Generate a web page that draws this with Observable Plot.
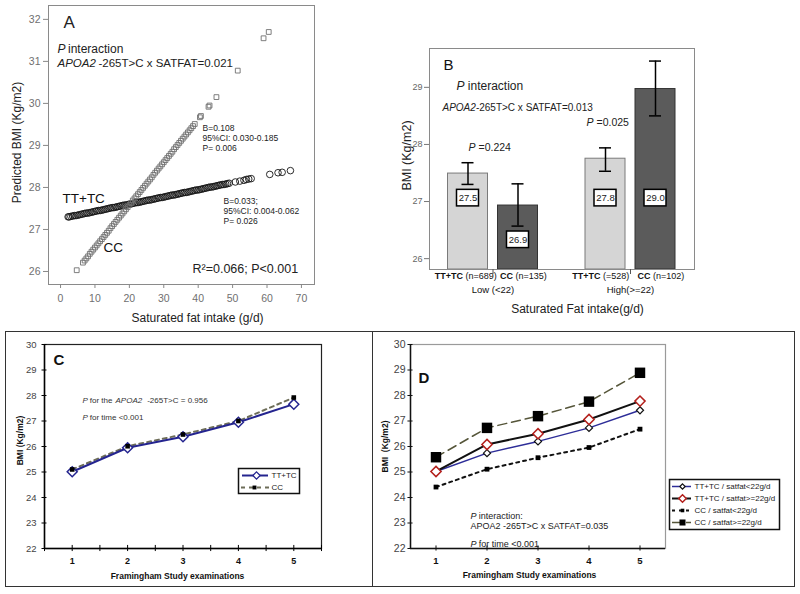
<!DOCTYPE html>
<html><head><meta charset="utf-8">
<script src="https://cdn.jsdelivr.net/npm/d3@7"></script>
<script src="https://cdn.jsdelivr.net/npm/@observablehq/plot@0.6"></script>
<style>
html,body{margin:0;padding:0;background:#fff;}
#root{position:relative;width:800px;height:594px;overflow:hidden;background:#fff;font-family:"Liberation Sans",Arial,sans-serif;}
.box{position:absolute;border:1.5px solid #333;box-sizing:border-box;}
</style></head>
<body><div id="root"></div>
<script>
// ================= DATA =================
// Panel A: predicted BMI vs saturated fat intake  [g/d, BMI]
const aTTPoints = [
 [2.2,27.30],[2.5,27.30],[3,27.31],[3.5,27.32],[4,27.33],[4.5,27.33],[5,27.34],[5.5,27.35],[6,27.36],[6.5,27.37],
 [7,27.38],[7.5,27.39],[8,27.39],[8.5,27.40],[9,27.41],[9.5,27.42],[10,27.43],[10.5,27.44],[11,27.45],[11.5,27.45],
 [12,27.46],[12.5,27.47],[13,27.48],[13.5,27.49],[14,27.50],[14.5,27.51],[15,27.52],[15.5,27.52],[16,27.53],[16.5,27.54],
 [17,27.55],[17.5,27.56],[18,27.57],[18.5,27.58],[19,27.58],[19.5,27.59],[20,27.60],[20.5,27.61],[21,27.62],[21.5,27.63],
 [22,27.64],[22.5,27.64],[23,27.65],[23.5,27.66],[24,27.67],[24.5,27.68],[25,27.69],[25.5,27.70],[26,27.70],[26.5,27.71],
 [27,27.72],[27.5,27.73],[28,27.74],[28.5,27.75],[29,27.76],[29.5,27.76],[30,27.77],[30.5,27.78],[31,27.79],[31.5,27.80],
 [32,27.81],[32.5,27.82],[33,27.82],[33.5,27.83],[34,27.84],[34.5,27.85],[35,27.86],[35.5,27.87],[36,27.88],[36.5,27.88],
 [37,27.89],[37.5,27.90],[38,27.91],[38.5,27.92],[39,27.93],[39.5,27.94],[40,27.94],[40.5,27.95],[41,27.96],[41.5,27.97],
 [42,27.98],[42.5,27.99],[43,28.00],[43.5,28.01],[44,28.01],[44.5,28.02],[45,28.03],[45.5,28.04],[46,28.05],[46.5,28.06],
 [47,28.07],[47.5,28.07],[48,28.08],[48.5,28.09],[49,28.10],
 [50.8,28.13],[52.1,28.15],[53.3,28.17],[54.0,28.19],[54.7,28.20],[55.4,28.21],[60.8,28.31],[63.2,28.35],[64.4,28.36],[66.8,28.40]
];
const aCCPoints = [
 [4.7,26.03],[6.5,26.21],[7,26.26],[7.5,26.31],[8,26.36],[8.5,26.42],[9,26.47],[9.5,26.52],[10,26.57],[10.5,26.62],
 [11,26.67],[11.5,26.72],[12,26.77],[12.5,26.82],[13,26.87],[13.5,26.92],[14,26.97],[14.5,27.03],[15,27.08],[15.5,27.13],
 [16,27.18],[16.5,27.23],[17,27.28],[17.5,27.33],[18,27.38],[18.5,27.43],[19,27.48],[19.5,27.53],[20,27.58],[20.5,27.63],
 [21,27.69],[21.5,27.74],[22,27.79],[22.5,27.84],[23,27.89],[23.5,27.94],[24,27.99],[24.5,28.04],[25,28.09],[25.5,28.14],
 [26,28.19],[26.5,28.24],[27,28.30],[27.5,28.35],[28,28.40],[28.5,28.45],[29,28.50],[29.5,28.55],[30,28.60],[30.5,28.65],
 [31,28.70],[31.5,28.75],[32,28.80],[32.5,28.85],[33,28.91],[33.5,28.96],[34,29.01],[34.5,29.06],[35,29.11],[35.5,29.16],
 [36,29.21],[36.5,29.26],[37,29.31],[37.5,29.36],[38,29.41],[38.5,29.46],[39,29.51],
 [40.5,29.67],[40.8,29.70],[43,29.92],[43.3,29.95],[45.3,30.15],[51.5,30.78],[59,31.55],[60.5,31.70]
];
const aXTicks = [0, 10, 20, 30, 40, 50, 60, 70];
const aYTicks = [26, 27, 28, 29, 30, 31, 32];

// Panel B: mean BMI by saturated fat group and genotype
const bGroups = ["Low (<22)", "High(>=22)"];
const bGenotypes = ["TT+TC", "CC"];
const bBarGroup = ["Low (<22)", "Low (<22)", "High(>=22)", "High(>=22)"];
const bBarGenotype = ["TT+TC", "CC", "TT+TC", "CC"];
const bBarN = ["(n=689)", "(n=135)", "(=528)", "(n=102)"];
const bMeans = [27.49, 26.93, 27.75, 28.97];
const bLower = [27.30, 26.57, 27.53, 28.50];
const bUpper = [27.68, 27.31, 27.94, 29.46];
const bMeanLabels = ["27.5", "26.9", "27.8", "29.0"];
const bYTicks = [26, 27, 28, 29];

// Panel C: BMI over examinations by genotype
const cExams = [1, 2, 3, 4, 5];
const cSeries = ["TT+TC", "CC"];
const cTT = [25.01, 25.95, 26.38, 26.95, 27.66];
const cCC = [25.10, 26.01, 26.47, 27.00, 27.92];
const cYTicks = [22, 23, 24, 25, 26, 27, 28, 29, 30];
const cXMinor = [0.5, 1, 1.5, 2, 2.5, 3, 3.5, 4, 4.5, 5, 5.5];

// Panel D: BMI over examinations by genotype x saturated fat
const dExams = [1, 2, 3, 4, 5];
const dSeries = ["TT+TC / satfat<22g/d", "TT+TC / satfat>=22g/d", "CC / satfat<22g/d", "CC / satfat>=22g/d"];
const dTTlow  = [25.02, 25.74, 26.20, 26.73, 27.42];
const dTThigh = [25.02, 26.08, 26.50, 27.06, 27.78];
const dCClow  = [24.41, 25.11, 25.56, 25.96, 26.68];
const dCChigh = [25.58, 26.73, 27.19, 27.76, 28.89];
const dYTicks = [22, 23, 24, 25, 26, 27, 28, 29, 30];

// ================= HELPERS =================
const FONT = '"Liberation Sans", Arial, Helvetica, sans-serif';
const baseStyle = {fontFamily: FONT, background: "transparent", overflow: "visible", color: "#222"};
const DIAMOND = d3.symbolDiamond2 || "diamond";
const intFmt = d => String(d);
const root = document.getElementById("root");
function place(el, left, top) {
  el.style.position = "absolute";
  el.style.left = left + "px";
  el.style.top = top + "px";
  root.appendChild(el);
}
function box(left, top, w, h) {
  const d = document.createElement("div");
  d.className = "box";
  d.style.left = left + "px"; d.style.top = top + "px";
  d.style.width = w + "px"; d.style.height = h + "px";
  root.appendChild(d);
}
function note(text, frameAnchor, dx, dy, o = {}) {
  return Plot.text([text], {text: d => d, frameAnchor, dx, dy, textAnchor: "start",
    lineAnchor: "middle", fill: "#222", fontSize: 12, ...o});
}

// ================= PANEL A =================
const aX = [-3.5, 73.8], aY = [25.69, 32.33];
const plotA = Plot.plot({
  width: 330, height: 330,
  marginLeft: 48, marginRight: 16, marginTop: 5, marginBottom: 46,
  x: {domain: aX}, y: {domain: aY},
  style: baseStyle,
  marks: [
    Plot.frame({stroke: "#8a8a8a"}),
    Plot.axisX({ticks: aXTicks, tickFormat: intFmt, tickSize: 4, tickPadding: 6, fontSize: 10.5, color: "#707070", stroke: "#888", label: null}),
    Plot.axisY({ticks: aYTicks, tickFormat: intFmt, tickSize: 5, tickPadding: 3, fontSize: 10.5, color: "#707070", stroke: "#888", label: null}),
    Plot.dot(aTTPoints, {x: d => d[0], y: d => d[1], r: 3.3, stroke: "#151515", strokeWidth: 0.9, fill: "none"}),
    Plot.dot(aCCPoints, {x: d => d[0], y: d => d[1], symbol: "square", r: 2.7, stroke: "#707070", strokeWidth: 0.9, fill: "none"}),
    note("A", "top-left", 15, 17.5, {fontSize: 17}),
    note("P", "top-left", 9, 44, {fontStyle: "italic", fontSize: 12}),
    note("interaction", "top-left", 19.5, 44, {fontSize: 12}),
    note("APOA2", "top-left", 9, 57.5, {fontStyle: "italic", fontSize: 11.5}),
    note("-265T>C x SATFAT=0.021", "top-left", 50, 57.5, {fontSize: 11.5}),
    note("B=0.108", "top-left", 154, 123, {fontSize: 8.5}),
    note("95%CI: 0.030-0.185", "top-left", 154, 133, {fontSize: 8.5}),
    note("P= 0.006", "top-left", 154, 143, {fontSize: 8.5}),
    note("B=0.033;", "top-left", 175, 196, {fontSize: 8.5}),
    note("95%CI: 0.004-0.062", "top-left", 175, 206, {fontSize: 8.5}),
    note("P= 0.026", "top-left", 175, 216, {fontSize: 8.5}),
    note("TT+TC", "top-left", 14, 193, {fontSize: 13.5, fill: "#111"}),
    note("CC", "top-left", 55, 242, {fontSize: 13.5, fill: "#111"}),
    note("R\u00B2=0.066; P<0.001", "top-left", 144, 263, {fontSize: 12.5}),
    note("Predicted BMI (Kg/m2)", "left", -31, -2.5, {rotate: -90, textAnchor: "middle", fontSize: 12}),
    note("Saturated fat intake (g/d)", "bottom", 16, 34, {textAnchor: "middle", fontSize: 12})
  ]
});
place(plotA, 0, 0);

// ================= PANEL B =================
const bX = [-0.77, 4.53], bY = [25.81, 29.68];
const bIdx = bMeans.map((_, i) => i);
const bPos = i => bGroups.indexOf(bBarGroup[i]) * 2.75 + bGenotypes.indexOf(bBarGenotype[i]);
const bGroupPos = g => bGroups.indexOf(g) * 2.75 + 0.5;
const bLabelY = i => Math.min(bLower[i] - 0.24, 27.06);
const plotB = Plot.plot({
  width: 330, height: 290,
  marginLeft: 49, marginRight: 16, marginTop: 18, marginBottom: 51,
  x: {domain: bX}, y: {domain: bY},
  style: baseStyle,
  marks: [
    Plot.rect(bIdx.filter(i => bBarGenotype[i] === "TT+TC"), {x1: i => bPos(i) - 0.4, x2: i => bPos(i) + 0.4, y1: bY[0], y2: i => bMeans[i], fill: "#d5d5d5", stroke: "#7a7a7a"}),
    Plot.rect(bIdx.filter(i => bBarGenotype[i] === "CC"), {x1: i => bPos(i) - 0.4, x2: i => bPos(i) + 0.4, y1: bY[0], y2: i => bMeans[i], fill: "#5b5b5b", stroke: "#333"}),
    Plot.frame({stroke: "#8a8a8a"}),
    Plot.axisY({ticks: bYTicks, tickFormat: intFmt, tickSize: 5, tickPadding: 2, fontSize: 9, color: "#666", stroke: "#777", label: null}),
    Plot.axisX(bGroups.map(bGroupPos), {tickSize: 5, tickFormat: () => "", stroke: "#555", label: null}),
    Plot.ruleX(bIdx, {x: bPos, y1: i => bLower[i], y2: i => bUpper[i], stroke: "#000", strokeWidth: 1.5}),
    Plot.ruleY(bIdx, {y: i => bLower[i], x1: i => bPos(i) - 0.12, x2: i => bPos(i) + 0.12, stroke: "#000", strokeWidth: 1.5}),
    Plot.ruleY(bIdx, {y: i => bUpper[i], x1: i => bPos(i) - 0.12, x2: i => bPos(i) + 0.12, stroke: "#000", strokeWidth: 1.5}),
    Plot.rect(bIdx, {x1: i => bPos(i) - 0.22, x2: i => bPos(i) + 0.22, y1: i => bLabelY(i) - 0.145, y2: i => bLabelY(i) + 0.145, fill: "white", stroke: "#000", strokeWidth: 1.5}),
    Plot.text(bIdx, {x: bPos, y: bLabelY, text: i => bMeanLabels[i], fontSize: 9.5, fill: "#222"}),
    Plot.text(bIdx, {x: bPos, frameAnchor: "bottom", dy: 9.5, dx: -5, text: i => bBarGenotype[i], textAnchor: "end", fontWeight: "bold", fontSize: 9, fill: "#111"}),
    Plot.text(bIdx, {x: bPos, frameAnchor: "bottom", dy: 9.5, dx: -2.5, text: i => bBarN[i], textAnchor: "start", fontSize: 9, fill: "#111"}),
    Plot.text(bGroups, {x: bGroupPos, frameAnchor: "bottom", dy: 23, text: d => d, fontSize: 9.5, fill: "#111"}),
    note("B", "top-left", 14, 17, {fontSize: 15, fill: "#111"}),
    note("P", "top-left", 27, 38, {fontStyle: "italic", fontSize: 12}),
    note("interaction", "top-left", 38.3, 38, {fontSize: 12}),
    note("APOA2", "top-left", 13, 59, {fontStyle: "italic", fontSize: 10}),
    note("-265T>C x SATFAT=0.013", "top-left", 46.4, 59, {fontSize: 10}),
    note("P", "top-left", 39, 99, {fontStyle: "italic", fontSize: 10.5}),
    note("=0.224", "top-left", 49, 99, {fontSize: 10.5}),
    note("P", "top-left", 157, 74, {fontStyle: "italic", fontSize: 10.5}),
    note("=0.025", "top-left", 167, 74, {fontSize: 10.5}),
    note("BMI (Kg/m2)", "left", -23, -3.5, {rotate: -90, textAnchor: "middle", fontSize: 12.5}),
    note("Saturated Fat intake(g/d)", "bottom", 15.5, 40, {textAnchor: "middle", fontSize: 12})
  ]
});
place(plotB, 380, 30);

// ================= PANEL C =================
box(5, 331, 368, 256);
const cX = [0.5, 5.5], cY = [22, 30];
const cTTStyle = {stroke: "#24248f", width: 2};
const cCCStyle = {stroke: "#6d6d58", width: 2, dash: "4,4"};
const plotC = Plot.plot({
  width: 375, height: 269,
  marginLeft: 44, marginRight: 54, marginTop: 19, marginBottom: 46,
  x: {domain: cX}, y: {domain: cY},
  style: baseStyle,
  marks: [
    Plot.frame({stroke: "#222", strokeWidth: 1.2}),
    Plot.ruleX([cX[0]], {stroke: "#000", strokeWidth: 1.5}),
    Plot.ruleY([cY[0]], {stroke: "#000", strokeWidth: 1.5}),
    Plot.ruleY(cYTicks, {y: d => d, x1: cX[0] - 0.045, x2: cX[0] + 0.045, stroke: "#000"}),
    Plot.ruleX(cXMinor, {x: d => d, y1: cY[0] - 0.12, y2: cY[0] + 0.12, stroke: "#000"}),
    Plot.axisY({ticks: cYTicks, tickFormat: intFmt, tickSize: 0, tickPadding: 8, fontSize: 9.5, color: "#444", label: null}),
    Plot.axisX({ticks: cExams, tickFormat: intFmt, tickSize: 0, tickPadding: 9, fontSize: 9, fontWeight: "bold", color: "#111", label: null}),
    Plot.line(cCC, {x: cExams, y: cCC, stroke: cCCStyle.stroke, strokeWidth: cCCStyle.width, strokeDasharray: cCCStyle.dash}),
    Plot.line(cTT, {x: cExams, y: cTT, stroke: cTTStyle.stroke, strokeWidth: cTTStyle.width}),
    Plot.dot(cTT, {x: cExams, y: cTT, symbol: DIAMOND, r: 4.5, stroke: cTTStyle.stroke, strokeWidth: 1.5, fill: "white"}),
    Plot.dot(cCC, {x: cExams, y: cCC, symbol: "square", r: 2.6, fill: "#000", stroke: "none"}),
    note("C", "top-left", 9, 16, {fontSize: 15, fontWeight: "bold", fill: "#111"}),
    note("P", "top-left", 38, 56, {fontStyle: "italic", fontSize: 8, fill: "#333"}),
    note("for the", "top-left", 45.3, 56, {fontSize: 8, fill: "#333"}),
    note("APOA2", "top-left", 71, 56, {fontStyle: "italic", fontSize: 8, fill: "#333"}),
    note("-265T>C = 0.956", "top-left", 102.7, 56, {fontSize: 8, fill: "#333"}),
    note("P", "top-left", 38, 73, {fontStyle: "italic", fontSize: 8, fill: "#333"}),
    note("for time <0.001", "top-left", 45.3, 73, {fontSize: 8, fill: "#333"}),
    note("BMI (Kg/m2)", "left", -24, -6, {rotate: -90, textAnchor: "middle", fontSize: 8.5, fontWeight: "bold", fill: "#111"}),
    note("Framingham Study examinations", "bottom", -5.5, 28, {textAnchor: "middle", fontSize: 8.5, fontWeight: "bold", fill: "#111"})
  ]
});
place(plotC, 0, 325);

// legend C
const legC = Plot.plot({
  width: 61, height: 25, margin: 0,
  x: {domain: [0, 61], axis: null}, y: {type: "point", domain: cSeries, padding: 0.5, axis: null},
  style: baseStyle,
  marks: [
    Plot.frame({stroke: "#111", strokeWidth: 1.5}),
    Plot.ruleY(["TT+TC"], {y: d => d, x1: 4, x2: 30, stroke: cTTStyle.stroke, strokeWidth: cTTStyle.width}),
    Plot.dot(["TT+TC"], {x: 18, y: d => d, symbol: DIAMOND, r: 3.3, stroke: cTTStyle.stroke, strokeWidth: 1.3, fill: "white"}),
    Plot.ruleY(["CC"], {y: d => d, x1: 3, x2: 34, stroke: cCCStyle.stroke, strokeWidth: cCCStyle.width, strokeDasharray: cCCStyle.dash}),
    Plot.dot(["CC"], {x: 16, y: d => d, symbol: "square", r: 2.2, fill: "#000", stroke: "none"}),
    Plot.text(cSeries, {x: 33, y: d => d, text: d => d, textAnchor: "start", fontSize: 8, fill: "#222", dx: 0}),
  ]
});
place(legC, 238, 468);

// ================= PANEL D =================
box(372, 331, 423, 256);
const dX = [0.5, 5.5], dY = [22, 30];
const dValues = [dTTlow, dTThigh, dCClow, dCChigh];
const dStyles = [
  {stroke: "#2d2d98", width: 1.5, dash: null, symbol: DIAMOND, r: 3.2, mStroke: "#111", mFill: "white", mWidth: 1.2},
  {stroke: "#111", width: 2, dash: null, symbol: DIAMOND, r: 4.6, mStroke: "#b3201c", mFill: "white", mWidth: 1.5},
  {stroke: "#111", width: 2, dash: "3,4", symbol: "square", r: 2.7, mStroke: "none", mFill: "#000", mWidth: 0},
  {stroke: "#56563a", width: 1.5, dash: "9,5", symbol: "square", r: 5.9, mStroke: "none", mFill: "#000", mWidth: 0}
];
const dSeriesMarks = [];
dValues.forEach((vals, k) => {
  const s = dStyles[k];
  dSeriesMarks.push(Plot.line(vals, {x: dExams, y: vals, stroke: s.stroke, strokeWidth: s.width, strokeDasharray: s.dash}));
});
[0, 2, 3, 1].forEach(k => {
  const s = dStyles[k], vals = dValues[k];
  dSeriesMarks.push(Plot.dot(vals, {x: dExams, y: vals, symbol: s.symbol, r: s.r, stroke: s.mStroke, strokeWidth: s.mWidth, fill: s.mFill}));
});
const plotD = Plot.plot({
  width: 423, height: 269,
  marginLeft: 38, marginRight: 130, marginTop: 19, marginBottom: 46,
  x: {domain: dX}, y: {domain: dY},
  style: baseStyle,
  marks: [
    Plot.frame({stroke: "#9a9a9a", strokeWidth: 1.2}),
    Plot.ruleX([dX[0]], {stroke: "#111", strokeWidth: 1.5}),
    Plot.ruleY([dY[0]], {stroke: "#111", strokeWidth: 1.5}),
    Plot.ruleY(dYTicks, {y: d => d, x1: dX[0] - 0.05, x2: dX[0] + 0.05, stroke: "#111"}),
    Plot.ruleX(dExams, {x: d => d, y1: dY[0] - 0.1, y2: dY[0] + 0.1, stroke: "#111"}),
    Plot.axisY({ticks: dYTicks, tickFormat: intFmt, tickSize: 0, tickPadding: 5, fontSize: 10.5, color: "#444", label: null}),
    Plot.axisX({ticks: dExams, tickFormat: intFmt, tickSize: 0, tickPadding: 9, fontSize: 9.5, fontWeight: "bold", color: "#111", label: null}),
    ...dSeriesMarks,
    note("D", "top-left", 8, 34, {fontSize: 15, fontWeight: "bold", fill: "#111"}),
    note("P", "top-left", 60, 172, {fontStyle: "italic", fontSize: 9, fill: "#222"}),
    note("interaction:", "top-left", 68.3, 172, {fontSize: 9, fill: "#222"}),
    note("APOA2 -265T>C x SATFAT=0.035", "top-left", 60, 181.5, {fontSize: 9, fill: "#222"}),
    note("P", "top-left", 60, 200, {fontStyle: "italic", fontSize: 9, fill: "#222"}),
    note("for time <0.001", "top-left", 68.3, 200, {fontSize: 9, fill: "#222"}),
    note("BMI  (Kg/m2)", "left", -25, 0, {rotate: -90, textAnchor: "middle", fontSize: 8.5, fontWeight: "bold", fill: "#111"}),
    note("Framingham Study examinations", "bottom", -8.5, 27, {textAnchor: "middle", fontSize: 8.5, fontWeight: "bold", fill: "#111"})
  ]
});
place(plotD, 372, 325);

// legend D
const legDMarks = [Plot.frame({stroke: "#111", strokeWidth: 1.5})];
dSeries.forEach((name, k) => {
  const s = dStyles[k];
  legDMarks.push(Plot.ruleY([name], {y: d => d, x1: 3, x2: 22, stroke: s.stroke, strokeWidth: s.width, strokeDasharray: s.dash}));
  legDMarks.push(Plot.dot([name], {x: 13, y: d => d, symbol: s.symbol, r: Math.min(s.r * 0.75, 3.4), stroke: s.mStroke, strokeWidth: s.mWidth, fill: s.mFill}));
});
legDMarks.push(Plot.text(dSeries, {x: 25, y: d => d, text: d => d, textAnchor: "start", fontSize: 8, fill: "#222"}));
const legD = Plot.plot({
  width: 110, height: 50, margin: 0,
  x: {domain: [0, 110], axis: null}, y: {type: "point", domain: dSeries, padding: 0.5, axis: null},
  style: baseStyle,
  marks: legDMarks
});
place(legD, 669, 479);
</script>
</body></html>
